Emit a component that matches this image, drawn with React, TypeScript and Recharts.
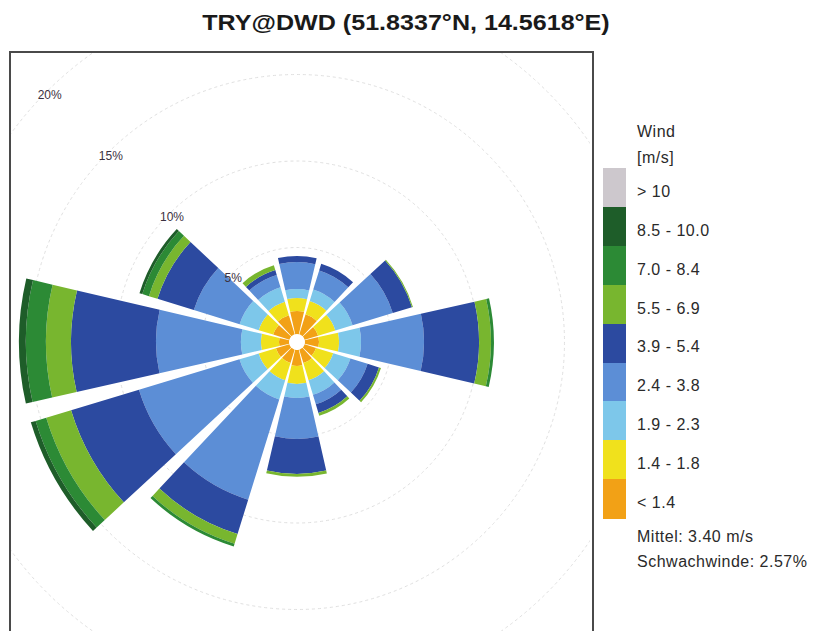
import {
  PolarAngleAxis,
  PolarGrid,
  PolarRadiusAxis,
  RadialBar,
  RadialBarChart,
} from "recharts";

const FONT = '"Liberation Sans", Arial, Helvetica, sans-serif';

// 12 Richtungssektoren, im Uhrzeigersinn ab Nord
const directions = ["N", "NNO", "ONO", "O", "OSO", "SSO", "S", "SSW", "WSW", "W", "WNW", "NNW"];

// Häufigkeit in % je Sektor und Geschwindigkeitsklasse
const below14 = [1.33, 1.21, 0.81, 0.81, 0.69, 0.81, 0.92, 0.81, 0.81, 0.58, 0.98, 1.16];
const from14to18 = [0.75, 0.81, 1.04, 1.16, 1.04, 1.04, 1.04, 1.04, 1.04, 1.04, 0.87, 0.81];
const from19to23 = [0.52, 0.69, 1.04, 1.27, 1.04, 0.87, 0.81, 1.16, 1.16, 1.16, 1.16, 0.87];
const from24to38 = [1.56, 1.16, 2.43, 3.64, 1.04, 0.58, 2.37, 6.07, 6.07, 4.91, 2.77, 0.75];
const from39to54 = [0.35, 0.4, 1.16, 3.18, 0.69, 0.52, 2.02, 2.08, 4.1, 4.91, 2.2, 0.29];
const from55to69 = [0, 0, 0.06, 0.69, 0.12, 0.17, 0.17, 0.58, 1.5, 1.45, 0.52, 0.29];
const from70to84 = [0, 0, 0, 0.17, 0, 0, 0, 0.17, 0.64, 1.16, 0.4, 0];
const from85to100 = [0, 0, 0, 0, 0, 0, 0, 0, 0.29, 0.4, 0.17, 0];
const over10 = [0, 0, 0, 0, 0, 0, 0, 0, 0, 0, 0, 0];

const ringTicks = [5, 10, 15, 20];

// inner to outer, same order as the stack
const speedClasses = [
  { key: "below14", label: "< 1.4", color: "#f2a116", values: below14 },
  { key: "from14to18", label: "1.4 - 1.8", color: "#f0e11c", values: from14to18 },
  { key: "from19to23", label: "1.9 - 2.3", color: "#7dc7ea", values: from19to23 },
  { key: "from24to38", label: "2.4 - 3.8", color: "#5c8ed6", values: from24to38 },
  { key: "from39to54", label: "3.9 - 5.4", color: "#2c4aa0", values: from39to54 },
  { key: "from55to69", label: "5.5 - 6.9", color: "#78b62f", values: from55to69 },
  { key: "from70to84", label: "7.0 - 8.4", color: "#2c8a35", values: from70to84 },
  { key: "from85to100", label: "8.5 - 10.0", color: "#1e5d29", values: from85to100 },
  { key: "over10", label: "> 10", color: "#cdc8cd", values: over10 },
];

const data = directions.map((dir, i) => {
  const row: Record<string, string | number> = { dir };
  speedClasses.forEach((c) => {
    row[c.key] = c.values[i];
  });
  return row;
});

const RingTick = ({ x, y, payload }: any) => (
  <text
    x={x + 3}
    y={y + 3}
    textAnchor="middle"
    dominantBaseline="central"
    fontSize={12}
    fontFamily={FONT}
    fill="#3b3140"
  >
    {payload.value}%
  </text>
);

function WindRose() {
  // the angle axis puts the first band one step further ccw, so start at 75° to centre N at 90°
  return (
    <RadialBarChart
      width={579}
      height={600}
      cx={286}
      cy={289}
      layout="centric"
      data={data}
      innerRadius={8}
      outerRadius={354}
      startAngle={75}
      endAngle={-285}
      barCategoryGap="6%"
      margin={{ top: 0, right: 0, bottom: 0, left: 0 }}
    >
      <PolarGrid
        gridType="circle"
        radialLines={false}
        stroke="#e0e0e0"
        strokeDasharray="3 3"
      />
      <PolarAngleAxis type="category" dataKey="dir" tick={false} axisLine={false} />
      {speedClasses
        .filter((c) => c.values.some((v) => v > 0))
        .map((c) => (
          <RadialBar
            key={c.key}
            dataKey={c.key}
            stackId="wind"
            fill={c.color}
            isAnimationActive={false}
          />
        ))}
      <PolarRadiusAxis
        type="number"
        domain={[0, 20]}
        ticks={ringTicks}
        angle={135}
        axisLine={false}
        tickLine={false}
        tick={<RingTick />}
        allowDataOverflow
      />
    </RadialBarChart>
  );
}

export default function App() {
  const swatchH = 38.9;
  const legendTop = 168;
  const textStyle = {
    position: "absolute" as const,
    fontSize: 16,
    lineHeight: "20px",
    color: "#2a2a2a",
    whiteSpace: "nowrap" as const,
    letterSpacing: 0.5,
  };
  return (
    <div
      style={{
        position: "absolute",
        left: 0,
        top: 0,
        width: 827,
        height: 631,
        background: "#fff",
        fontFamily: FONT,
        overflow: "hidden",
      }}
    >
      <div
        style={{
          position: "absolute",
          left: 106,
          top: 10,
          width: 600,
          textAlign: "center",
          fontSize: 22,
          lineHeight: "26px",
          fontWeight: "bold",
          color: "#1a1a1a",
          transform: "scaleX(1.14)",
        }}
      >
        TRY@DWD (51.8337°N, 14.5618°E)
      </div>

      <div
        style={{
          position: "absolute",
          left: 9,
          top: 51,
          width: 585,
          height: 620,
          border: "2px solid #4a4a4a",
          boxSizing: "border-box",
          overflow: "hidden",
        }}
      >
        <WindRose />
      </div>

      <div style={{ ...textStyle, left: 637, top: 122 }}>Wind</div>
      <div style={{ ...textStyle, left: 637, top: 148 }}>[m/s]</div>
      {[...speedClasses].reverse().map((c, i) => (
        <div key={c.key}>
          <div
            style={{
              position: "absolute",
              left: 603,
              top: legendTop + i * swatchH,
              width: 23,
              height: swatchH + 0.5,
              background: c.color,
            }}
          />
          <div
            style={{
              ...textStyle,
              left: 637,
              top: legendTop + i * swatchH + swatchH / 2 + 4 - 9.6,
            }}
          >
            {c.label}
          </div>
        </div>
      ))}
      <div style={{ ...textStyle, left: 637, top: 527 }}>Mittel: 3.40 m/s</div>
      <div style={{ ...textStyle, left: 637, top: 552 }}>Schwachwinde: 2.57%</div>
    </div>
  );
}
